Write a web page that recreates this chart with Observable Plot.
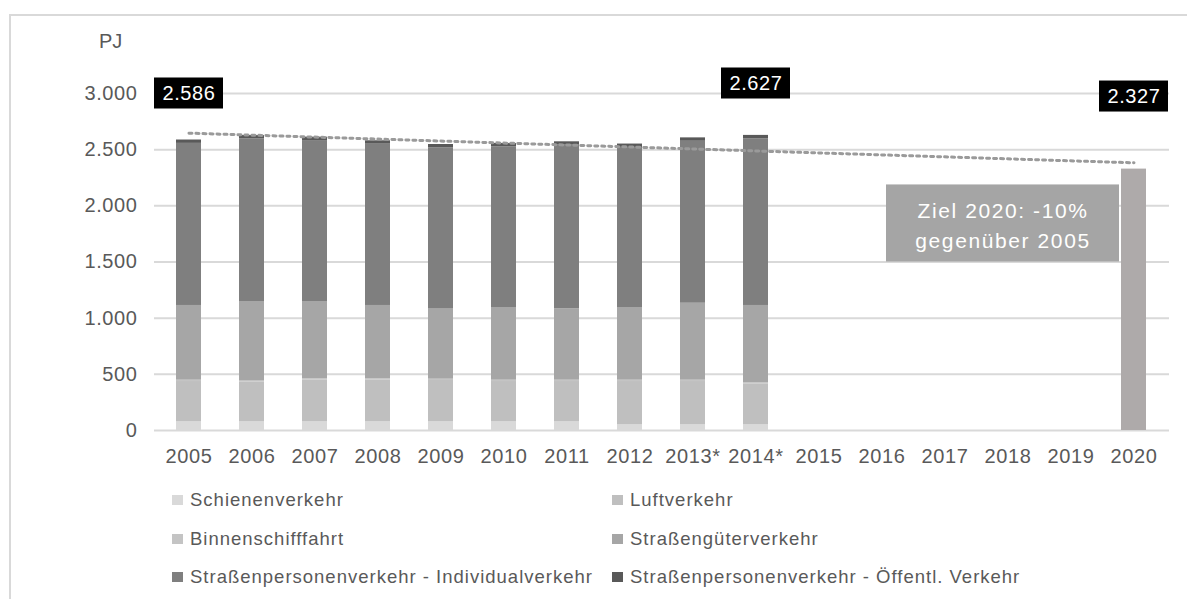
<!DOCTYPE html>
<html><head><meta charset="utf-8">
<script src="https://cdn.jsdelivr.net/npm/d3@7"></script>
<script src="https://cdn.jsdelivr.net/npm/@observablehq/plot@0.6"></script>
<style>
html,body{margin:0;padding:0;background:#fff;overflow:hidden;width:1187px;height:599px;font-family:"Liberation Sans",Arial,sans-serif;}
#frame{position:absolute;left:9px;top:14px;width:1300px;height:700px;border:2px solid #d9d9d9;box-sizing:border-box;}
#chart{position:absolute;left:0;top:0;}
#chart svg text{letter-spacing:0.6px;}
#chart g[fill="#fffffe"] text{letter-spacing:1.6px;}
#unit{position:absolute;left:99px;top:30px;font-size:20px;color:#595959;}
.leg{position:absolute;font-size:18.5px;color:#595959;letter-spacing:1px;white-space:nowrap;line-height:22px}
.leg .sw{display:inline-block;width:11px;height:10px;margin-right:7px;vertical-align:1px}
</style></head><body>
<div id="frame"></div>
<div id="chart"></div>
<div id="unit">PJ</div>
<div id="legend"></div>
<script>
// ---- data ----
const years = ["2005","2006","2007","2008","2009","2010","2011","2012","2013","2014","2015","2016","2017","2018","2019","2020"];
const yearLabels = ["2005","2006","2007","2008","2009","2010","2011","2012","2013*","2014*","2015","2016","2017","2018","2019","2020"];
const barYears = ["2005","2006","2007","2008","2009","2010","2011","2012","2013","2014"];
const sectors = ["Schienenverkehr","Luftverkehr","Binnenschifffahrt","Straßengüterverkehr","Straßenpersonenverkehr - Individualverkehr","Straßenpersonenverkehr - Öffentl. Verkehr"];
const colors = ["#d9d9d9","#bfbfbf","#c4c4c4","#a6a6a6","#7f7f7f","#595959"];
const schiene    = [80, 80, 80, 80, 80, 80, 80, 53, 53, 53];
const luft       = [356, 353, 368, 368, 365, 356, 356, 383, 383, 359];
const binnen     = [12, 12, 12, 12, 12, 12, 12, 12, 12, 12];
const gueter     = [665, 703, 688, 653, 629, 647, 635, 647, 685, 689];
const individual = [1443, 1448, 1433, 1436, 1430, 1430, 1457, 1425, 1442, 1484];
const oeffentl   = [30, 30, 30, 30, 30, 30, 30, 30, 30, 30];
const targetYear = ["2020"];
const targetValue = [2327];
const labelYears = ["2005","2014","2020"];
const labelValues = [2586, 2627, 2327];
const trendYears = ["2005","2020"];
const trendValues = [2647, 2383];
const goalText = "Ziel 2020: -10%\ngegenüber 2005";
const yTicks = [0,500,1000,1500,2000,2500,3000];

// ---- build ----
const series = [schiene, luft, binnen, gueter, individual, oeffentl];
const table = [];
barYears.forEach((yr,i)=>sectors.forEach((s,j)=>table.push({year:yr, sector:s, value:series[j][i]})));
const targetTable = targetYear.map((y,i)=>({year:y, value:targetValue[i]}));
const labels = labelYears.map((y,i)=>({year:y, value:labelValues[i]}));
const trend = trendYears.map((y,i)=>({year:y, value:trendValues[i]}));
const fmt = d3.formatLocale({decimal:",", thousands:".", grouping:[3], currency:["","€"]}).format(",.0f");

// label placement (in PJ units on the y scale)
const labelAnchor = {"2005":3000, "2014":3089, "2020":2973};
const boxHalf = 138;           // half height of the black value boxes
const goal = {year:"2018", y:1843, half:343};

const plot = Plot.plot({
  width:1187, height:480, marginTop:93, marginBottom:50, marginLeft:154, marginRight:18,
  style:{fontFamily:"Liberation Sans, Arial, sans-serif", fontSize:"20px", color:"#595959", background:"transparent", overflow:"visible"},
  x:{domain:years, paddingInner:0.6, paddingOuter:0.3, label:null, tickSize:0, tickPadding:18, tickFormat:d=>yearLabels[years.indexOf(d)]},
  y:{domain:[0,3000], ticks:yTicks, label:null, tickSize:0, tickPadding:17, tickFormat:fmt},
  color:{domain:sectors, range:colors},
  marks:[
    Plot.ruleY(yTicks, {stroke:"#d9d9d9", strokeWidth:2}),
    Plot.barY(table, {x:"year", y:"value", fill:"sector"}),
    Plot.barY(targetTable, {x:"year", y:"value", fill:"#aeaaaa"}),
    Plot.line(trend, {x:"year", y:"value", stroke:"#9a9a9a", strokeWidth:3, strokeDasharray:"3,4"}),
    Plot.barY(labels, {x:"year", y1:d=>labelAnchor[d.year]-boxHalf, y2:d=>labelAnchor[d.year]+boxHalf, fill:"#000", insetLeft:-22, insetRight:-22}),
    Plot.text(labels, {x:"year", y:d=>labelAnchor[d.year], text:d=>fmt(d.value), fill:"white", fontSize:20}),
    Plot.barY([goal], {x:"year", y1:d=>d.y-d.half, y2:d=>d.y+d.half, fill:"#a5a5a5", insetLeft:-109, insetRight:-99}),
    Plot.text([goalText], {x:()=>goal.year, y:()=>goal.y, dx:-5, text:d=>d, fill:"#fffffe", fontSize:21, lineHeight:1.4})
  ]
});
document.getElementById("chart").append(plot);

// legend
const leg = document.getElementById("legend");
const colX = [172, 612], rowY = [489, 528, 566];
sectors.forEach((s,i)=>{
  const d = document.createElement("div");
  d.className = "leg";
  d.style.left = colX[i%2] + "px";
  d.style.top = rowY[Math.floor(i/2)] + "px";
  d.innerHTML = `<span class="sw" style="background:${colors[i]}"></span>${s}`;
  leg.append(d);
});
</script>
</body></html>
